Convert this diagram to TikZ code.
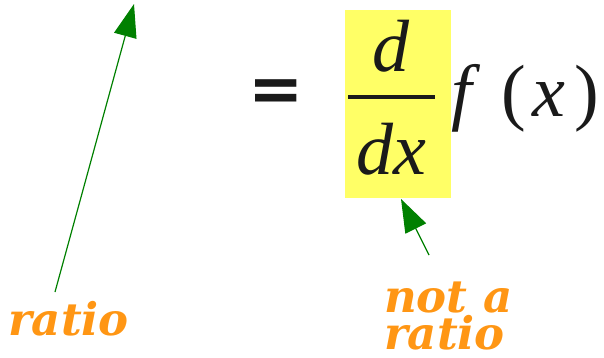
\documentclass[tikz,border=0pt]{standalone}
\usepackage{fontspec}
\newfontfamily\mserif{Liberation Serif}[ItalicFont={Liberation Serif Italic}]
\newfontfamily\lblfont{DejaVu Serif}
\newfontfamily\eqfont{DejaVu Sans}
\usetikzlibrary{arrows.meta}
\definecolor{hlyellow}{RGB}{255,255,102}
\definecolor{arrgreen}{RGB}{0,128,0}
\definecolor{lblorange}{RGB}{255,150,20}
\definecolor{inkgray}{RGB}{26,26,26}
\tikzset{
  mathtxt/.style={inner sep=0pt, anchor=base, text=inkgray, font=\mserif\itshape\fontsize{74}{80}\selectfont},
  lbl/.style={inner sep=0pt, anchor=base west, text=lblorange, text height=31pt, text depth=0pt, font=\lblfont\bfseries\itshape\fontsize{45}{38}\selectfont},
  ptr/.style={draw=arrgreen, line width=1.2pt, -{Triangle[length=33pt,width=23pt]}}
}
\begin{document}
\begin{tikzpicture}[x=1pt,y=-1pt]
\useasboundingbox (0,0) rectangle (604,358);
\node[fill=hlyellow, minimum width=106pt, minimum height=188pt, inner sep=0pt] (hl) at (398,104) {};
\node[inner sep=0pt, text=inkgray, font=\eqfont\bfseries\fontsize{66}{70}\selectfont] (eq) at (276,96) {=};
\node[mathtxt] (num) at (391,72) {d};
\coordinate (barL) at (348,97);
\coordinate (barR) at (435,97);
\draw[line width=4pt, inkgray] (barL) -- (barR);
\node[mathtxt] (den) at (391,175) {dx};
\node[mathtxt, anchor=base west] (fx) at (451,117) {f\hspace{30pt}\upshape(\hspace{6pt}\itshape x\hspace{9pt}\upshape)};
\node[lbl] (r1) at (8,335) {ratio};
\node[lbl] (r2a) at (384,312) {not a};
\node[lbl] (r2b) at (384,349) {ratio};
\coordinate (s1) at (55,292);
\coordinate (t1) at (134,4);
\coordinate (s2) at (429,255);
\coordinate (t2) at (401,199);
\draw[ptr] (s1) -- (t1);
\draw[ptr] (s2) -- (t2);
\end{tikzpicture}
\end{document}
